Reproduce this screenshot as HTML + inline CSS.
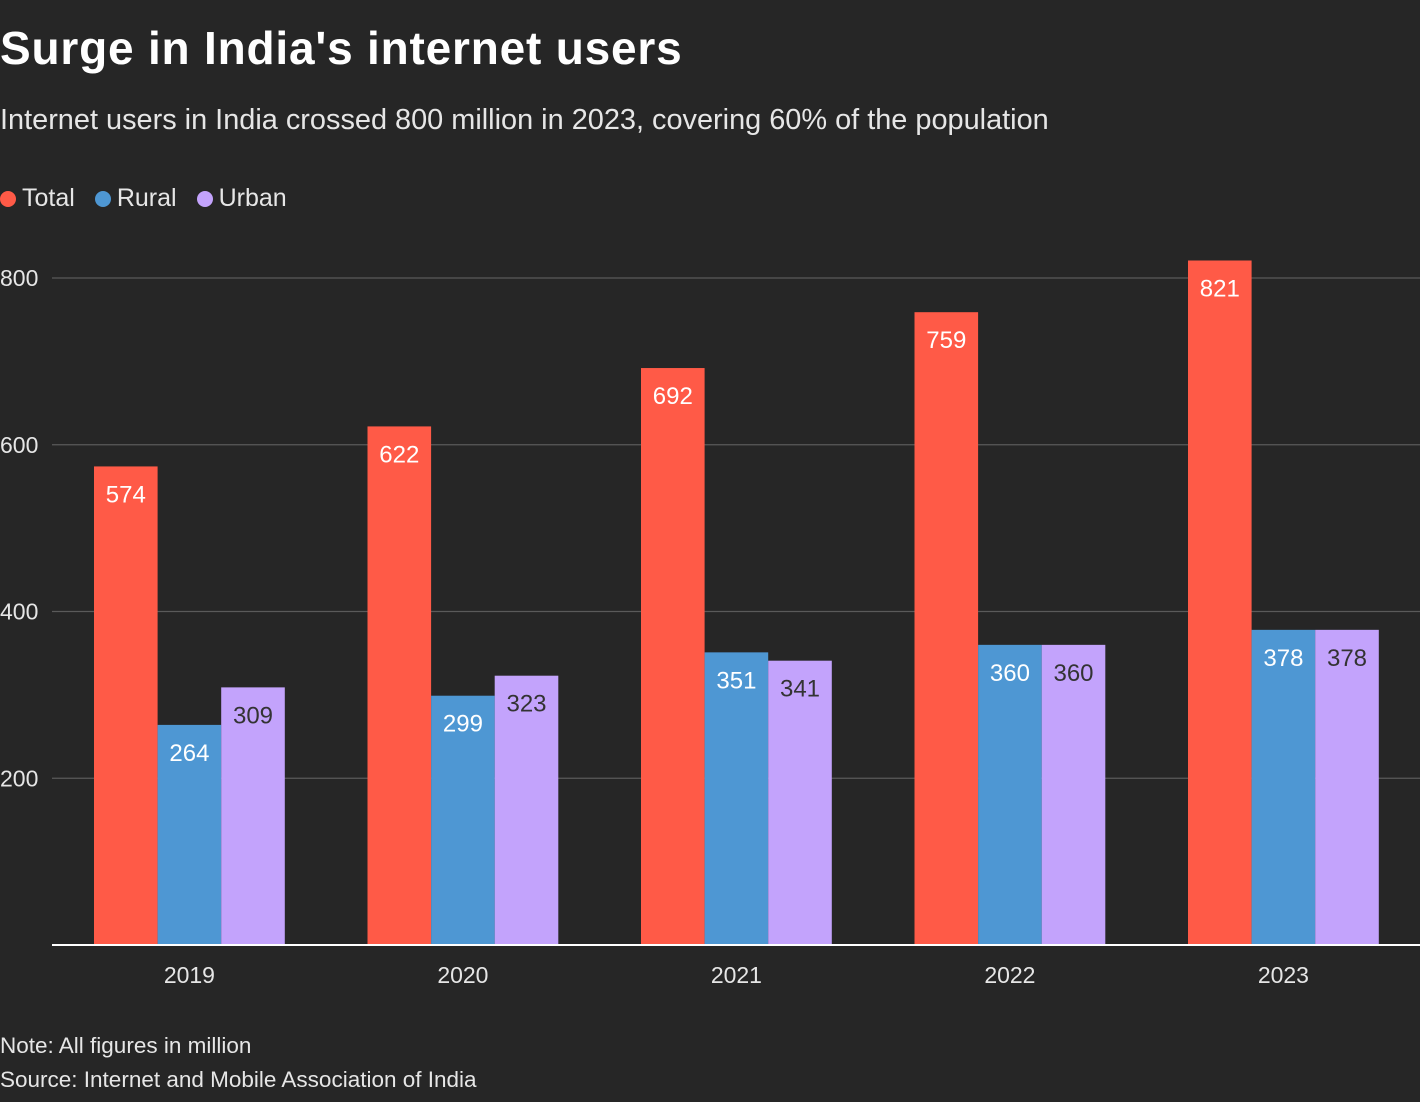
<!DOCTYPE html>
<html><head><meta charset="utf-8">
<style>
html,body{margin:0;padding:0;background:#262626;width:1420px;height:1102px;overflow:hidden;font-family:"Liberation Sans",sans-serif;color:#fff}
#title{position:absolute;left:0;top:21px;font-size:46px;font-weight:bold;letter-spacing:0.8px}
#sub{position:absolute;left:0;top:104px;font-size:28.9px;color:#e6e6e6}
#legend{position:absolute;left:0;top:184px;font-size:25px;color:#e6e6e6;display:flex;gap:20px}
#legend span.d{display:inline-block;width:16px;height:16px;border-radius:50%;margin-right:6px;vertical-align:-1px}
.note{position:absolute;left:0;font-size:22.5px;color:#e6e6e6}
svg{position:absolute;left:0;top:0}
</style></head><body>
<div id="title">Surge in India's internet users</div>
<div id="sub">Internet users in India crossed 800 million in 2023, covering 60% of the population</div>
<div id="legend">
<div><span class="d" style="background:#ff5a47"></span>Total</div>
<div><span class="d" style="background:#4e97d3"></span>Rural</div>
<div><span class="d" style="background:#c3a3fc"></span>Urban</div>
</div>
<svg id="chart" width="1420" height="1102"></svg>
<div class="note" style="top:1033px">Note: All figures in million</div>
<div class="note" style="top:1067px">Source: Internet and Mobile Association of India</div>
<script>
const years = ["2019","2020","2021","2022","2023"];
const total = [574,622,692,759,821];
const rural = [264,299,351,360,378];
const urban = [309,323,341,360,378];
const yTicks = [200,400,600,800];

const NS="http://www.w3.org/2000/svg";
const svg=document.getElementById('chart');
const y0=945, pxPer=(945-278)/800;
const yScale=v=>y0-v*pxPer;
const groupStart=94, groupStep=273.5, barW=63.6;
const xScale=(i,s)=>groupStart+i*groupStep+s*barW;
function mk(tag,attrs){const e=document.createElementNS(NS,tag);for(const k in attrs)e.setAttribute(k,attrs[k]);svg.appendChild(e);return e;}

yTicks.forEach(t=>{
  const l=mk('line',{x1:52,x2:1420,y1:yScale(t),y2:yScale(t),stroke:'#5a5a5a','stroke-width':1.3});
  
  
  const tx=mk('text',{x:0,y:yScale(t)+8,fill:'#e6e6e6','font-size':23,'font-family':'Liberation Sans, sans-serif'});
  tx.textContent=t;
  
  
});

const series=[[total,'#ff5a47','total'],[rural,'#4e97d3','rural'],[urban,'#c3a3fc','urban']];
years.forEach((yr,i)=>{
  series.forEach(([arr,col,nm],s)=>{
    const v=arr[i],x=xScale(i,s),y=yScale(v);
    const r=mk('rect',{x:x,y:y,width:barW,height:y0-y,fill:col});
    
    
    const t=mk('text',{x:x+barW/2,y:y+36,fill:'#fff','font-size':24,'text-anchor':'middle','font-family':'Liberation Sans, sans-serif'});
    if(nm==='urban')t.setAttribute('fill','#333');
    t.textContent=v;
    
    
  });
  const xl=mk('text',{x:xScale(i,1.5),y:983,fill:'#e6e6e6','font-size':23,'text-anchor':'middle','font-family':'Liberation Sans, sans-serif'});
  xl.textContent=yr;
  
  
});
const base=mk('line',{x1:52,x2:1420,y1:y0,y2:y0,stroke:'#fff','stroke-width':2});


</script>
</body></html>
